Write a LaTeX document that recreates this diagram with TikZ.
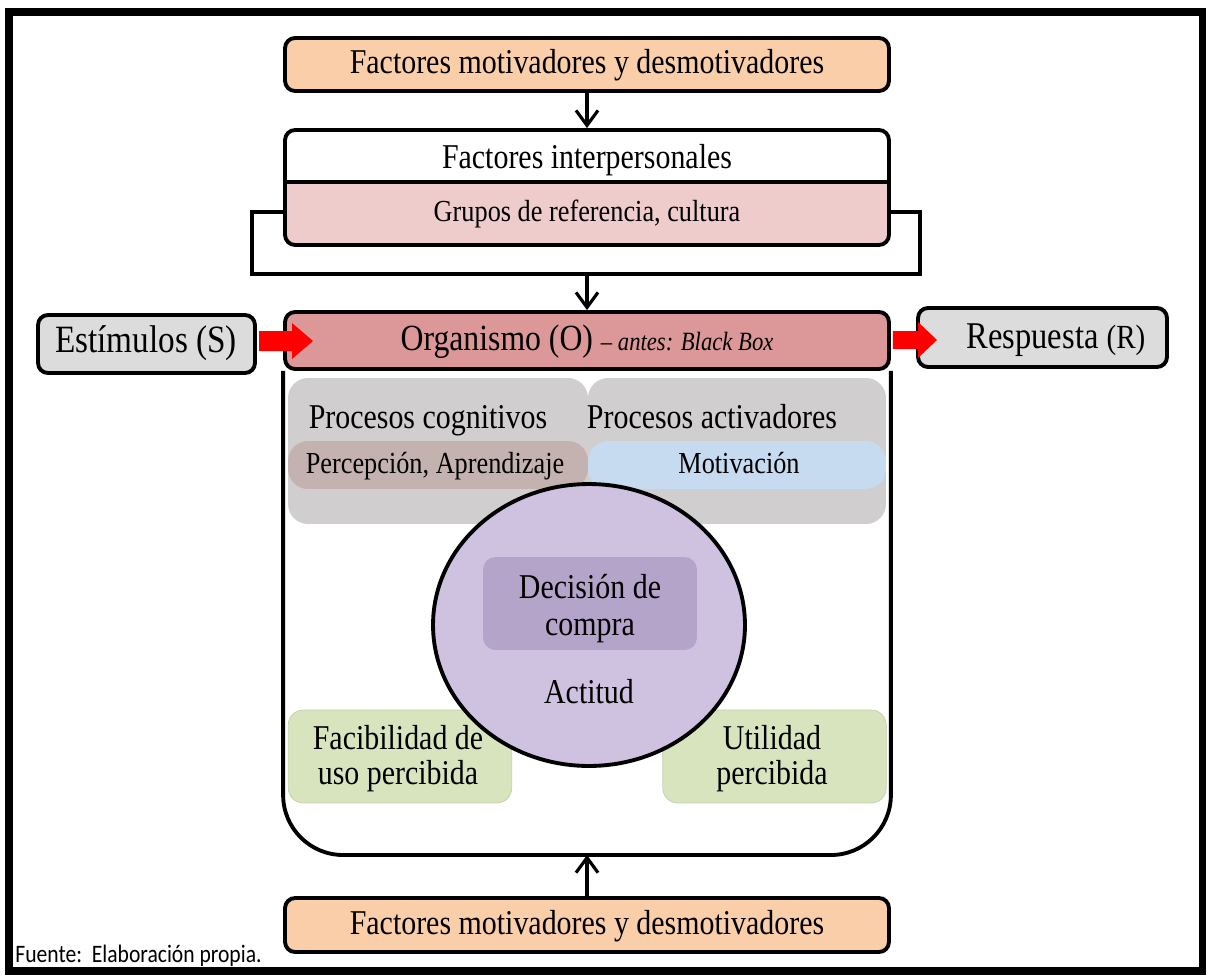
\documentclass[tikz,border=0pt]{standalone}
\usepackage{fontspec}
\setmainfont{Liberation Serif}[FakeStretch=0.86]
\newfontfamily\calibfont{Carlito}[FakeStretch=0.86]
\usetikzlibrary{arrows.meta,shapes.geometric,calc}
\definecolor{peach}{RGB}{250,206,168}
\definecolor{pinkband}{RGB}{238,204,204}
\definecolor{orgred}{RGB}{220,152,152}
\definecolor{lgray}{RGB}{220,220,220}
\definecolor{procgray}{RGB}{208,206,206}
\definecolor{percband}{RGB}{196,178,176}
\definecolor{motband}{RGB}{198,218,240}
\definecolor{circ}{RGB}{206,194,224}
\definecolor{decis}{RGB}{181,164,202}
\definecolor{greenbox}{RGB}{216,228,190}
\definecolor{greenedge}{RGB}{196,208,170}
\begin{document}
\begin{tikzpicture}[x=0.02cm,y=-0.02cm,
  box/.style={draw=black,line width=2.2pt,rounded corners=0.2cm,inner sep=0pt},
  conn/.style={line width=1.8pt,-{Straight Barb[length=0.3cm,width=0.44cm,line width=1.8pt]}},
  txt/.style={inner sep=0pt,text height=14pt,text depth=4.3pt,font=\fontsize{19.8}{23}\selectfont},
  subtxt/.style={inner sep=0pt,text height=12.2pt,text depth=3.8pt,font=\fontsize{17.4}{20}\selectfont},
  mltxt/.style={inner sep=0pt,align=center},
  procbox/.style={fill=procgray,rounded corners=0.4cm,inner sep=0pt,minimum height=2.92cm},
  greenbx/.style={fill=greenbox,draw=greenedge,line width=0.4pt,rounded corners=0.3cm,inner sep=0pt,minimum width=4.47cm,minimum height=1.86cm},
  redarrow/.style={fill=red}]
\useasboundingbox (0,0) rectangle (1209,976);
\fill[white] (0,0) rectangle (1209,976);
% outer frame
\draw[line width=4pt] (9,12) rectangle (1202,971);

% top box
\node[box,fill=peach,minimum width=12.08cm,minimum height=1.06cm] (top) at (587,64.5) {};
\node[txt] (toptxt) at (587,65) {Factores motivadores y desmotivadores};

% interpersonal box
\node[box,fill=pinkband,minimum width=12.08cm,minimum height=2.30cm,
  path picture={\fill[white] (path picture bounding box.north west) rectangle ([yshift=-1.08cm]path picture bounding box.north east);}] (ip) at (587,187.5) {};
\draw[line width=1.8pt] ([yshift=-1.08cm]ip.north west) -- ([yshift=-1.08cm]ip.north east);
\node[txt] (iptxt) at (587,160) {Factores interpersonales};
\node[subtxt] (grptxt) at (587,214) {Grupos de referencia, cultura};
\draw[conn] (top.south) -- (ip.north);

% bracket
\coordinate (brk) at (587,274);
\draw[line width=2pt] (ip.west |- 0,212) -- (252,212) -- (252,274) -- (920,274) -- (920,212) -- (ip.east |- 0,212);

% organism bar
\node[box,fill=orgred,minimum width=12.08cm,minimum height=1.14cm] (org) at (587,340.5) {};
\node[inner sep=0pt,text height=14.6pt,text depth=4.6pt] (orgtxt) at (587,342) {\fontsize{21}{23}\selectfont Organismo (O) {\fontsize{15}{17}\selectfont\itshape -- antes: Black Box}};
\draw[conn] (brk) -- (org.north);

% container
\coordinate (contbot) at (587,855);
\draw[line width=2.2pt,rounded corners=1.2cm] (org.south west) -- (org.south west |- contbot) -- (org.south east |- contbot) -- (org.south east);

% stimulus and response
\node[box,fill=lgray,minimum width=4.34cm,minimum height=1.16cm] (S) at (146.5,344) {};
\node[inner sep=0pt,text height=15pt,text depth=4.8pt,font=\fontsize{22}{25}\selectfont] (Stxt) at (146,344) {Estímulos (S)};
\node[box,fill=lgray,minimum width=4.98cm,minimum height=1.18cm] (R) at (1042.5,337.5) {};
\node[inner sep=0pt,text height=15pt,text depth=4.8pt] (Rtxt) at (1056,340) {\fontsize{21.5}{25}\selectfont Respuesta {\fontsize{19.2}{22}\selectfont (R)}};

% processes
\node[procbox,minimum width=6.0cm,
  path picture={\fill[percband] ([yshift=-1.26cm]path picture bounding box.north west) rectangle ([yshift=-2.22cm]path picture bounding box.north east);}] (cog) at (438,451) {};
\node[procbox,minimum width=5.96cm,
  path picture={\fill[motband] ([yshift=-1.26cm]path picture bounding box.north west) rectangle ([yshift=-2.22cm]path picture bounding box.north east);}] (act) at (737,451) {};
\node[txt] (cogtxt) at (428,420) {Procesos cognitivos};
\node[txt] (acttxt) at (712,420) {Procesos activadores};
\node[subtxt] (perctxt) at (435,466) {Percepción, Aprendizaje};
\node[subtxt] (mottxt) at (739,466) {Motivación};

% green boxes
\node[greenbx] (fac) at (400,756.5) {};
\node[greenbx] (uti) at (774.5,756.5) {};
\node[mltxt,font=\fontsize{19.8}{19.8}\selectfont] (factxt) at (398,759) {Facibilidad de\\uso percibida};
\node[mltxt,font=\fontsize{19.8}{19.8}\selectfont] (utitxt) at (772,759) {Utilidad\\percibida};

% attitude ellipse
\node[ellipse,draw=black,line width=2.2pt,fill=circ,minimum width=6.24cm,minimum height=5.64cm,inner sep=0pt] (E) at (589,625) {};
\node[fill=decis,rounded corners=0.25cm,inner sep=0pt,minimum width=4.28cm,minimum height=1.86cm] (D) at (590,603.5) {};
\node[mltxt,font=\fontsize{19.8}{21}\selectfont] (Dtxt) at (590,609) {Decisión de\\compra};
\node[txt] (Etxt) at (589,695) {Actitud};

% red arrows
\fill[redarrow] ([xshift=1.2pt]S.east |- 0,331) -- (292,331) -- (292,323) -- (313,341) -- (292,359) -- (292,351) -- ([xshift=1.2pt]S.east |- 0,351) -- cycle;
\fill[redarrow] ([xshift=1.2pt]org.east |- 0,331) -- (918,331) -- (918,322) -- (937,340) -- (918,358) -- (918,349) -- ([xshift=1.2pt]org.east |- 0,349) -- cycle;

% bottom box
\node[box,fill=peach,minimum width=12.08cm,minimum height=1.08cm] (bot) at (587,925) {};
\node[txt] (bottxt) at (587,926) {Factores motivadores y desmotivadores};
\draw[conn] (bot.north) -- (contbot);

% source
\node[anchor=west,inner sep=0pt,font=\calibfont\fontsize{14.3}{16}\selectfont] (src) at (15,956) {Fuente:\ \ Elaboración propia.};
\end{tikzpicture}
\end{document}
